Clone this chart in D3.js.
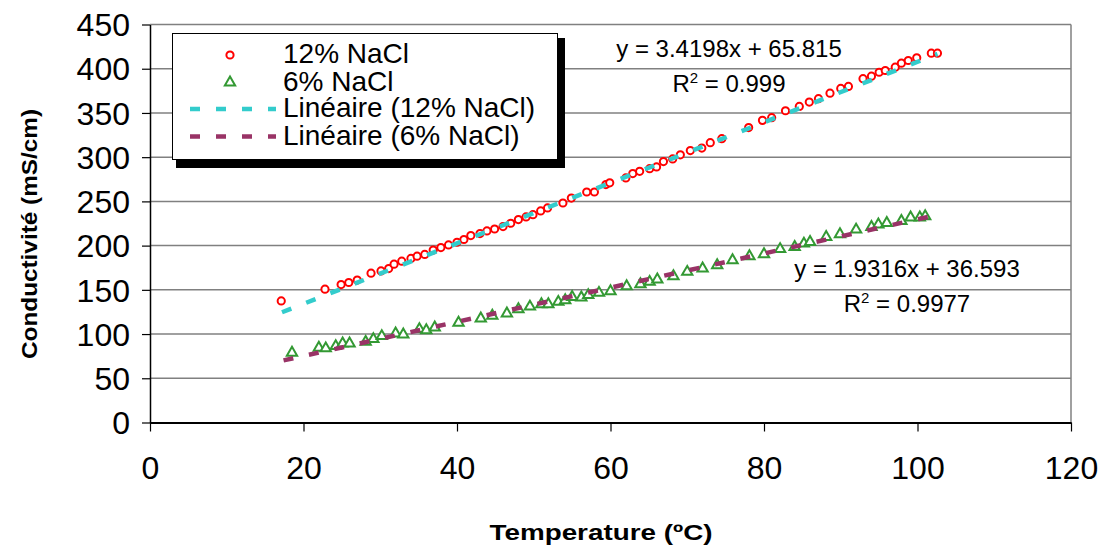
<!DOCTYPE html>
<html>
<head>
<meta charset="utf-8">
<script src="https://cdn.jsdelivr.net/npm/d3@7"></script>
<style>
body { margin: 0; background: #fff; }
svg { display: block; }
text { font-family: Arial, "Liberation Sans", sans-serif; fill: #000; }
</style>
</head>
<body>
<script>
// values
var temp12 = [17.1,22.8,24.9,25.9,27.0,28.8,30.1,31.1,31.8,32.8,34.0,34.8,35.8,36.9,37.9,38.9,40.0,40.9,41.8,43.0,43.9,44.9,46.0,47.0,48.0,49.0,49.9,50.9,51.8,53.8,54.9,56.9,57.9,59.4,59.9,62.0,62.9,63.8,65.1,66.0,66.9,68.1,69.1,70.4,71.9,73.0,74.5,78.0,79.8,81.0,82.8,84.6,85.9,87.1,88.6,90.0,91.0,92.9,94.0,95.0,95.8,97.1,97.9,98.8,99.9,101.8,102.6];
var cond12 = [137.5,150.7,156,158.3,161,168.8,171.4,174,179,182.4,185.5,188,190,195,197.8,200.8,203.8,206.9,211.4,213.6,216.6,218.8,221.5,225.3,229.4,232.4,235,239.2,242.6,248.2,253.8,260.6,260.6,269,271,276.5,281.5,284,287,289,295,298,302.6,307.5,310.3,316.4,320.9,333.5,341.6,344.6,352.5,357.4,362.3,366.1,372.4,377.7,380,388.7,391.6,396,398,401.8,406.3,409.3,412.4,417.6,417.6];
var temp6 = [18.5,22.0,22.9,24.2,25.1,26.0,28.1,29.1,30.2,32.0,33.0,35.1,36.0,37.1,40.2,43.1,44.6,46.5,48.0,49.5,51.0,51.9,53.2,54.1,55.0,56.2,57.1,58.5,60.0,62.1,63.9,65.1,66.1,68.2,70.0,72.0,73.9,75.9,78.1,80.0,82.1,84.0,85.2,86.0,88.1,89.9,92.0,94.0,94.9,96.0,97.9,99.1,100.3,101.0];
var cond6 = [78.8,84.5,83.8,86.4,89.4,89.4,91.2,94.3,97.7,100.7,99.6,105.6,104.4,107.5,112.7,117.6,120.8,123.3,128,131,133.8,133.8,136.4,138.3,142,141.3,144,146.6,148.5,154.1,156.4,159,161.7,165.4,170.3,174.1,177.8,183.5,188,190.3,196,198.5,202.3,204.1,209.8,212.9,218.1,221.1,223.8,225.6,227.9,231.7,231.7,233.2];

var seriesNames = ["12% NaCl", "6% NaCl"];
var trendNames = ["Linéaire (12% NaCl)", "Linéaire (6% NaCl)"];
var slopes = [3.4198, 1.9316];
var intercepts = [65.815, 36.593];
var rSquared = ["0.999", "0.9977"];
var trendFrom = [17.2, 17.4];
var trendTo = [102.6, 102.6];

var xTicks = [0, 20, 40, 60, 80, 100, 120];
var yTicks = [0, 50, 100, 150, 200, 250, 300, 350, 400, 450];

var xTitle = "Temperature (ºC)";
var yTitle = "Conductivité (mS/cm)";

var width = 1101, height = 545;
var markColor = ["#ff0000", "#339933"];
var trendColor = ["#33cccc", "#993366"];

var svg = d3.select("body").append("svg")
    .attr("width", width)
    .attr("height", height);

var x = d3.scaleLinear().domain([0, 120]).range([150, 1071]);
var y = d3.scaleLinear().domain([0, 450]).range([422.5, 24.5]);

//gridlines
svg.append("g").selectAll("line")
    .data(yTicks.slice(1))
    .enter().append("line")
    .attr("x1", x(0)).attr("x2", x(120))
    .attr("y1", function(d){ return y(d); })
    .attr("y2", function(d){ return y(d); })
    .style("stroke", "#808080")
    .style("stroke-width", 1.5);

//right border of plot
svg.append("line")
    .attr("x1", x(120)).attr("x2", x(120))
    .attr("y1", y(450)).attr("y2", y(0))
    .style("stroke", "#808080")
    .style("stroke-width", 1.5);

//y axis
var yAxis = svg.append("g")
    .attr("transform", "translate(" + x(0) + ",0)")
    .call(d3.axisLeft(y).tickValues(yTicks).tickSize(8).tickPadding(12).tickSizeOuter(0));
yAxis.select(".domain").style("stroke", "#000").style("stroke-width", 1.5);
yAxis.selectAll(".tick line").style("stroke", "#000").style("stroke-width", 1.2);
yAxis.selectAll("text")
    .style("font-size", "32px")
    .attr("dy", "0.35em")
    .style("fill", "#000");

//x axis
var xAxis = svg.append("g")
    .attr("transform", "translate(0," + y(0) + ")")
    .call(d3.axisBottom(x).tickValues(xTicks).tickSize(9).tickSizeOuter(0).tickPadding(25));
xAxis.select(".domain").style("stroke", "#000").style("stroke-width", 2);
xAxis.selectAll(".tick line").style("stroke", "#000").style("stroke-width", 1.2);
xAxis.selectAll("text")
    .style("font-size", "32px")
    .style("fill", "#000");

//axis titles
svg.append("text")
    .attr("x", 601)
    .attr("y", 540)
    .attr("text-anchor", "middle")
    .style("font-size", "22px")
    .style("font-weight", "bold")
    .attr("textLength", 223)
    .attr("lengthAdjust", "spacingAndGlyphs")
    .text(xTitle);

svg.append("text")
    .attr("transform", "translate(37,234) rotate(-90)")
    .attr("text-anchor", "middle")
    .style("font-size", "22px")
    .style("font-weight", "bold")
    .attr("textLength", 250)
    .attr("lengthAdjust", "spacingAndGlyphs")
    .text(yTitle);

//points
var tri = d3.symbol().type(d3.symbolTriangle).size(46);

svg.append("g").selectAll("circle")
    .data(d3.zip(temp12, cond12))
    .enter().append("circle")
    .attr("cx", function(d){ return x(d[0]); })
    .attr("cy", function(d){ return y(d[1]); })
    .attr("r", 3.6)
    .style("fill", "#fff")
    .style("stroke", markColor[0])
    .style("stroke-width", 2);

svg.append("g").selectAll("path")
    .data(d3.zip(temp6, cond6))
    .enter().append("path")
    .attr("d", tri)
    .attr("transform", function(d){ return "translate(" + x(d[0]) + "," + y(d[1]) + ")"; })
    .style("fill", "#fff")
    .style("stroke", markColor[1])
    .style("stroke-width", 2);

//trendlines (drawn over the markers like excel)
var line = d3.line()
    .x(function(d){ return x(d[0]); })
    .y(function(d){ return y(d[1]); });

for (var i = 0; i < 2; ++i){
    var pts = [trendFrom[i], trendTo[i]].map(function(t){ return [t, slopes[i] * t + intercepts[i]]; });
    svg.append("path")
        .attr("d", line(pts))
        .style("fill", "none")
        .style("stroke", trendColor[i])
        .style("stroke-width", 4.5)
        .style("stroke-dasharray", "10,16");
}

//equation labels
var eqPos = [[729, 57, 92], [907, 277, 312]];
for (var i = 0; i < 2; ++i){
    svg.append("text")
        .attr("x", eqPos[i][0])
        .attr("y", eqPos[i][1])
        .attr("text-anchor", "middle")
        .style("font-size", "24px")
        .text("y = " + slopes[i] + "x + " + intercepts[i]);
    var r = svg.append("text")
        .attr("x", eqPos[i][0])
        .attr("y", eqPos[i][2])
        .attr("text-anchor", "middle")
        .style("font-size", "24px");
    r.append("tspan").text("R");
    r.append("tspan").attr("dy", -9).style("font-size", "15px").text("2");
    r.append("tspan").attr("dy", 9).text(" = " + rSquared[i]);
}

//legend
var lg = svg.append("g");
lg.append("rect")
    .attr("x", 176).attr("y", 38)
    .attr("width", 389).attr("height", 130)
    .style("fill", "#000");
lg.append("rect")
    .attr("x", 172.5).attr("y", 33.5)
    .attr("width", 385).attr("height", 126)
    .style("fill", "#fff")
    .style("stroke", "#000")
    .style("stroke-width", 1);

var rowY = [55, 82.5, 109, 136.5];
lg.append("circle")
    .attr("cx", 230).attr("cy", rowY[0]).attr("r", 3.6)
    .style("fill", "#fff").style("stroke", markColor[0]).style("stroke-width", 2);
lg.append("path")
    .attr("d", tri)
    .attr("transform", "translate(230," + rowY[1] + ")")
    .style("fill", "#fff").style("stroke", markColor[1]).style("stroke-width", 2);
for (var i = 0; i < 2; ++i){
    lg.append("line")
        .attr("x1", 190).attr("x2", 276)
        .attr("y1", rowY[2 + i]).attr("y2", rowY[2 + i])
        .style("stroke", trendColor[i])
        .style("stroke-width", 4.5)
        .style("stroke-dasharray", "10,16");
}
var labels = seriesNames.concat(trendNames);
lg.selectAll("text.lab")
    .data(labels)
    .enter().append("text")
    .attr("class", "lab")
    .attr("x", 283)
    .attr("y", function(d, i){ return rowY[i] + 8; })
    .style("font-size", "28px")
    .text(function(d){ return d; });
</script>
</body>
</html>
